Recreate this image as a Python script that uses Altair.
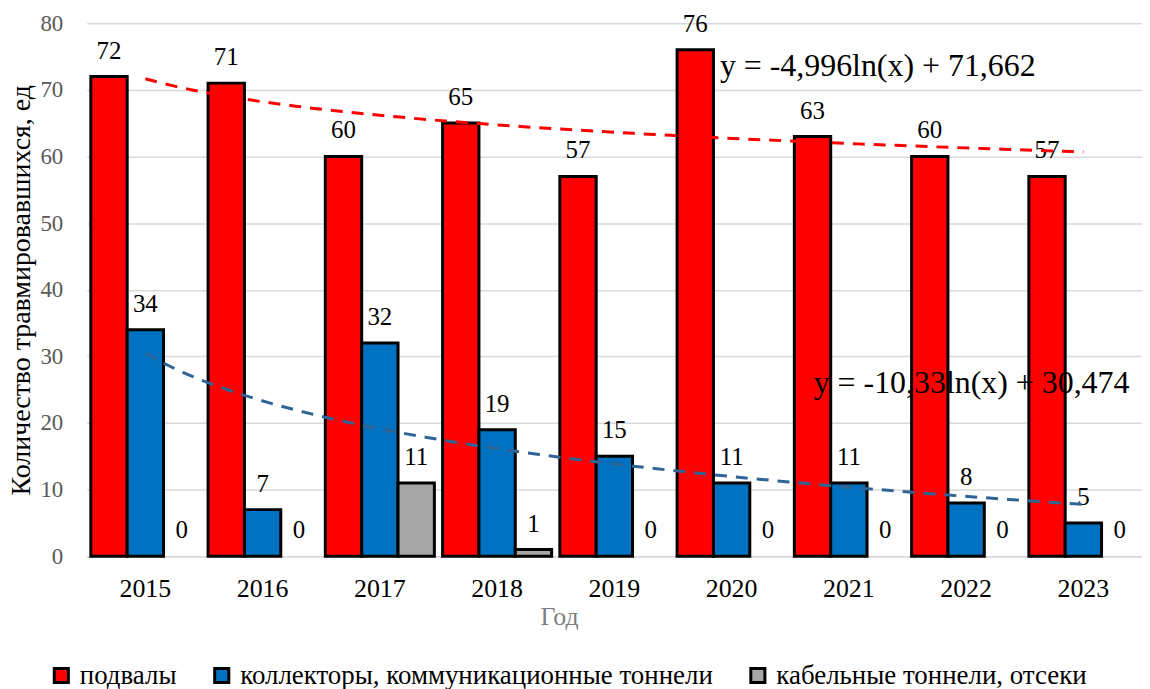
import altair as alt
import pandas as pd

years = ["2015", "2016", "2017", "2018", "2019", "2020", "2021", "2022", "2023"]
series_names = ["подвалы", "коллекторы, коммуникационные тоннели", "кабельные тоннели, отсеки"]
podvaly = [72, 71, 60, 65, 57, 76, 63, 60, 57]
kollektory = [34, 7, 32, 19, 15, 11, 11, 8, 5]
kabelnye = [0, 0, 11, 1, 0, 0, 0, 0, 0]
bar_colors = ["#ff0000", "#0070c0", "#a6a6a6"]
trend_colors = ["#ff0000", "#2e6496"]
equations = ["y = -4,996ln(x) + 71,662", "y = -10,33ln(x) + 30,474"]

rows = []
for i, yr in enumerate(years):
    for s, vals in zip(series_names, [podvaly, kollektory, kabelnye]):
        rows.append({"year": yr, "idx": i + 1, "series": s, "value": vals[i]})
df = pd.DataFrame(rows)

# annotation anchor points (in category-index / value units)
eq_pos = [(5.90, 73.6), (6.70, 26.0)]
eq_df = pd.DataFrame({
    "idx": [p[0] for p in eq_pos],
    "value": [p[1] for p in eq_pos],
    "label": equations,
})

FONT = "Liberation Serif"
W, H = 1059, 535
PIN = 0.07

x_band = alt.X(
    "year:N",
    sort=years,
    scale=alt.Scale(paddingInner=PIN, paddingOuter=PIN / 2),
    axis=alt.Axis(
        title="Год", titleColor="#7f7f7f", titleFontSize=26, titleFont=FONT,
        titleFontWeight="normal", titlePadding=2, titleX=474,
        labelFont=FONT, labelFontSize=26, labelColor="#000000", labelPadding=19,
        labelAngle=0, ticks=False, domainColor="#d9d9d9", domainWidth=1.5,
        grid=False,
    ),
)
x_off = alt.XOffset("series:N", sort=series_names,
                    scale=alt.Scale(domain=series_names, paddingInner=0, paddingOuter=0))
y_enc = alt.Y(
    "value:Q",
    scale=alt.Scale(domain=[0, 80], nice=False),
    axis=alt.Axis(
        title="Количество травмировавшихся, ед", titleFont=FONT, titleFontSize=28,
        titleFontWeight="normal", titleColor="#000000", titlePadding=4,
        values=list(range(0, 81, 10)), labelFont=FONT, labelFontSize=23,
        labelColor="#595959", labelPadding=24, ticks=False, domain=False,
        grid=True, gridColor="#d9d9d9", gridWidth=1.5,
    ),
)

base = alt.Chart(df)
bars = base.transform_filter(alt.datum.value > 0).mark_bar(
    stroke="#000000", strokeWidth=3
).encode(
    x=x_band,
    xOffset=x_off,
    y=y_enc,
    color=alt.Color(
        "series:N",
        sort=series_names,
        scale=alt.Scale(domain=series_names, range=bar_colors),
        legend=alt.Legend(
            title=None, orient="none", direction="horizontal",
            legendX=-39, legendY=641,
            labelFont=FONT, labelFontSize=27, labelColor="#000000",
            symbolType="square", symbolSize=200, symbolStrokeColor="#000000",
            symbolStrokeWidth=3, columnPadding=31, labelOffset=5,
            labelLimit=800,
        ),
    ),
)
labels = base.mark_text(font=FONT, fontSize=25, color="#000000",
                        baseline="alphabetic", dy=-18).encode(
    x=alt.X("year:N", sort=years), xOffset=alt.XOffset("series:N", sort=series_names),
    y=alt.Y("value:Q"), text="value:Q",
)
band_layer = alt.layer(bars, labels)

x_num = alt.X("idx:Q", scale=alt.Scale(domain=[0.5, 9.5], nice=False, zero=False), axis=None)
trend_parts = []
for s, c in zip(series_names[:2], trend_colors):
    trend_parts.append(
        base.transform_filter(alt.datum.series == s)
        .transform_regression("idx", "value", method="log", extent=[1, 9])
        .mark_line(color=c, strokeWidth=3, strokeDash=[12, 9])
        .encode(x=x_num, y=alt.Y("value:Q"))
    )
eq_text = alt.Chart(eq_df).mark_text(font=FONT, fontSize=32, color="#000000",
                                     align="left", baseline="middle").encode(
    x=x_num, y=alt.Y("value:Q"), text="label:N",
)
trend_layer = alt.layer(*trend_parts, eq_text)

chart = (
    alt.layer(band_layer, trend_layer)
    .resolve_scale(x="independent")
    .properties(width=W, height=H, padding={"left": 0, "top": 2, "right": 0, "bottom": 0})
    .configure(font=FONT)
    .configure_axis(labelFont=FONT, titleFont=FONT)
    .configure_legend(labelFont=FONT, titleFont=FONT)
    .configure_text(font=FONT)
    .configure_view(stroke=None)
)

chart.save("out.html", embed_options={"renderer": "svg", "actions": False})
